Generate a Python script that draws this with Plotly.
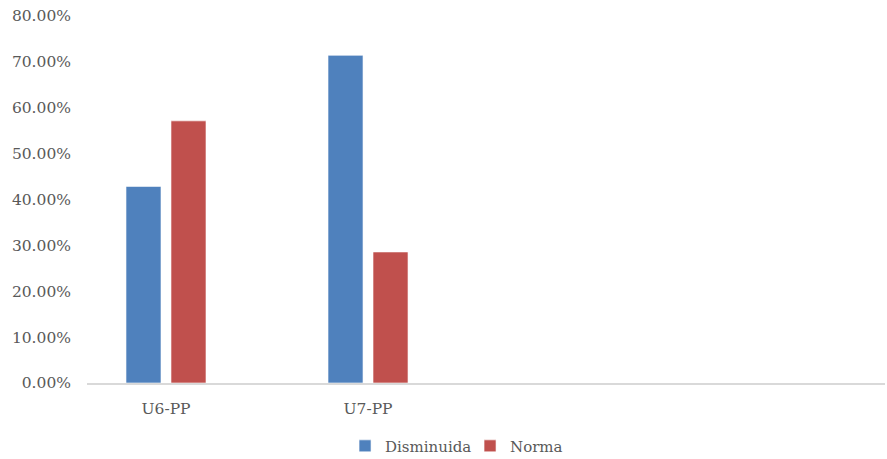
import plotly.graph_objects as go

# Share of each group per condition
categories = ["U6-PP", "U7-PP"]
disminuida = [0.4286, 0.7143]
norma = [0.5714, 0.2857]
y_ticks = [0, 0.1, 0.2, 0.3, 0.4, 0.5, 0.6, 0.7, 0.8]

font_family = "DejaVu Serif"
text_color = "#595959"

fig = go.Figure()
fig.add_trace(go.Bar(
    name="Disminuida", x=categories, y=disminuida,
    marker=dict(color="#4F81BD", line=dict(color="rgba(255,255,255,0.6)", width=1)),
))
fig.add_trace(go.Bar(
    name="Norma", x=categories, y=norma,
    marker=dict(color="#C0504D", line=dict(color="rgba(255,255,255,0.6)", width=1)),
))

fig.update_layout(
    width=887, height=459,
    margin=dict(l=87, r=2, t=16, b=76, autoexpand=False),
    paper_bgcolor="white", plot_bgcolor="white",
    barmode="group", bargap=0.5545, bargroupgap=0.222,
    font=dict(family=font_family, size=15.5, color=text_color),
    showlegend=True,
    legend=dict(orientation="h", x=0.48, xanchor="center", y=-0.172, yanchor="middle",
                entrywidth=80, itemwidth=30,
                font=dict(family=font_family, size=15, color=text_color)),
)
fig.update_xaxes(
    type="category", range=[-0.391, 3.559],
    showline=True, linecolor="#D9D9D9", linewidth=1.5,
    showgrid=False, ticks="", ticklabelstandoff=11,
)
fig.update_yaxes(
    range=[0, 0.8], tickvals=y_ticks, tickformat=".2%",
    showgrid=False, zeroline=False, showline=False,
    ticks="", ticklabelstandoff=15,
)

fig.write_html("out.html")
